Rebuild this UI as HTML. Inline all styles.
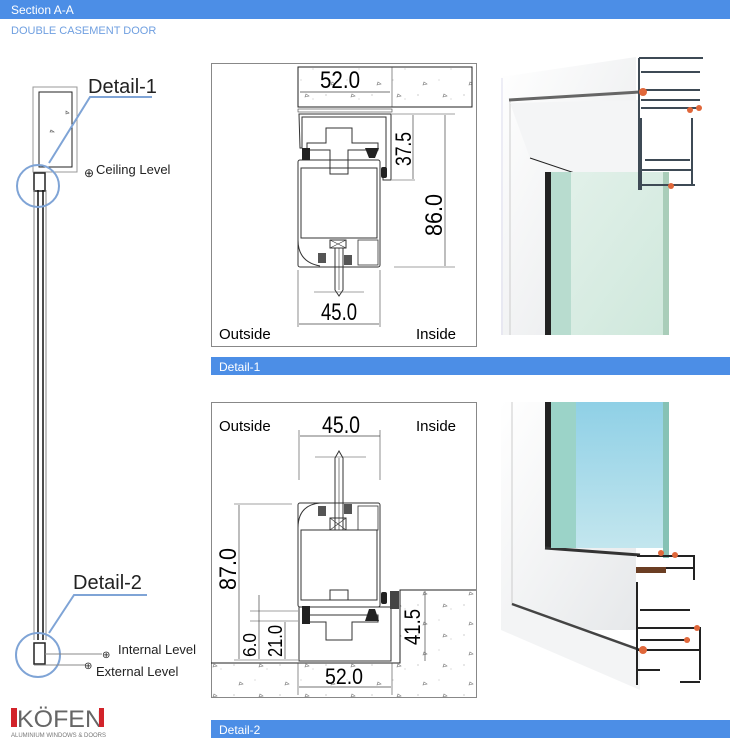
<!DOCTYPE html>
<html><head><meta charset="utf-8"><style>
html,body{margin:0;padding:0;background:#fff;width:730px;height:745px;overflow:hidden}
svg{display:block}
text{font-family:"Liberation Sans",sans-serif}
</style></head><body>
<svg width="730" height="745" viewBox="0 0 730 745" xmlns="http://www.w3.org/2000/svg">
<defs>
<linearGradient id="g1" x1="0" y1="0" x2="1" y2="1"><stop offset="0" stop-color="#e3f1ea"/><stop offset="1" stop-color="#cfe8dc"/></linearGradient>
<linearGradient id="g2" x1="0" y1="0" x2="0" y2="1"><stop offset="0" stop-color="#8fd0e6"/><stop offset="1" stop-color="#c3e6ee"/></linearGradient>
<linearGradient id="sh" x1="0" y1="0" x2="1" y2="1"><stop offset="0" stop-color="#ffffff"/><stop offset="1" stop-color="#e6e8ea"/></linearGradient>
<pattern id="conc" width="46" height="30" patternUnits="userSpaceOnUse"><circle cx="4" cy="5" r="0.6" fill="#aaa"/><circle cx="25" cy="20" r="0.5" fill="#aaa"/><circle cx="37" cy="9" r="0.5" fill="#aaa"/><path d="M30 4 l3 2 l-4 1z" fill="none" stroke="#777" stroke-width="0.6"/><path d="M10 22 l3 2 l-4 1z" fill="none" stroke="#777" stroke-width="0.6"/></pattern>
</defs>
<!-- header -->
<rect x="0" y="0" width="730" height="19" fill="#4c8ee6"/>
<text x="11" y="14" font-size="12" fill="#fff">Section A-A</text>
<text x="11" y="34" font-size="11" fill="#6f9fe0">DOUBLE CASEMENT DOOR</text>

<!-- left section -->
<rect x="33" y="87" width="44" height="85" fill="none" stroke="#999" stroke-width="1"/>
<rect x="39" y="92" width="33" height="75" fill="none" stroke="#222" stroke-width="1"/>
<path d="M66 111 l3 2 l-3 1z M51 130 l3 2 l-4 0z" fill="none" stroke="#555" stroke-width="0.6"/>
<rect x="34" y="173" width="11" height="18" fill="none" stroke="#222" stroke-width="1.5"/>
<line x1="34" y1="190" x2="34" y2="640" stroke="#888" stroke-width="1"/>
<line x1="38" y1="190" x2="38" y2="640" stroke="#111" stroke-width="1.5"/>
<line x1="43" y1="190" x2="43" y2="640" stroke="#111" stroke-width="1.5"/>
<line x1="46" y1="190" x2="46" y2="640" stroke="#888" stroke-width="1"/>
<rect x="34" y="643" width="11" height="21" fill="none" stroke="#222" stroke-width="1.5"/>
<circle cx="38" cy="186" r="21" fill="none" stroke="#7fa4d6" stroke-width="2"/>
<polyline points="49,163 90,97 152,97" fill="none" stroke="#7fa4d6" stroke-width="2"/>
<text x="88" y="93" font-size="20" fill="#222">Detail-1</text>
<text x="84" y="177" font-size="12" fill="#222">⊕</text>
<text x="96" y="174" font-size="13" fill="#222">Ceiling Level</text>
<circle cx="38" cy="655" r="22" fill="none" stroke="#7fa4d6" stroke-width="2"/>
<polyline points="49,633 74,595 147,595" fill="none" stroke="#7fa4d6" stroke-width="2"/>
<text x="73" y="589" font-size="20" fill="#222">Detail-2</text>
<line x1="45" y1="654" x2="102" y2="654" stroke="#888"/>
<line x1="34" y1="665" x2="86" y2="665" stroke="#888"/>
<text x="102" y="658" font-size="10" fill="#222">⊕</text>
<text x="118" y="654" font-size="13" fill="#222">Internal Level</text>
<text x="84" y="669" font-size="10" fill="#222">⊕</text>
<text x="96" y="676" font-size="13" fill="#222">External Level</text>
<!-- logo -->
<rect x="11" y="708" width="6" height="19" fill="#d2232a"/>
<text x="17" y="727" font-size="24" fill="#666" textLength="86" lengthAdjust="spacingAndGlyphs">KÖFEN</text>
<rect x="99" y="708" width="5" height="19" fill="#d2232a"/>
<text x="11" y="737" font-size="6" fill="#777" textLength="95" lengthAdjust="spacingAndGlyphs" font-family="Liberation Serif">ALUMINIUM WINDOWS &amp; DOORS</text>

<!-- detail 1 box -->
<rect x="211.5" y="63.5" width="265" height="283" fill="#fff" stroke="#888"/>
<rect x="298" y="67" width="174" height="40" fill="url(#conc)" stroke="#222"/>
<line x1="392" y1="67" x2="392" y2="107" stroke="#444" stroke-width="0.6"/>
<line x1="300" y1="92" x2="390" y2="92" stroke="#444" stroke-width="0.7"/>
<text x="320" y="88" font-size="24" textLength="40" lengthAdjust="spacingAndGlyphs">52.0</text>
<rect x="298" y="109" width="94" height="3" fill="none" stroke="#444" stroke-width="0.6"/>
<path d="M299 114 H391 V180 H383 V176 L386 176 V117 H302 V148 H300 Z" fill="none" stroke="#333" stroke-width="1"/>
<path d="M307 143 H326 V128 H352 V143 H378 V150 H348 V160 H330 V150 H307 Z" fill="none" stroke="#333" stroke-width="1"/>
<rect x="298" y="160" width="82" height="107" rx="2" fill="none" stroke="#333" stroke-width="1"/>
<rect x="301" y="168" width="76" height="70" fill="none" stroke="#333" stroke-width="1"/>
<path d="M330 160 V174 H348 V160" fill="none" stroke="#333"/>
<path d="M298 240 Q298 262 320 266" fill="none" stroke="#333"/>
<rect x="302" y="148" width="8" height="12" fill="#222"/>
<path d="M365 148 h14 l-4 10 h-6z" fill="#222"/>
<rect x="381" y="167" width="6" height="11" rx="2" fill="#222"/>
<rect x="330" y="240" width="16" height="8" fill="none" stroke="#333"/>
<path d="M330 240 l16 8 M346 240 l-16 8" stroke="#333" stroke-width="0.6"/>
<rect x="358" y="240" width="20" height="25" fill="none" stroke="#333" stroke-width="0.8"/>
<rect x="318" y="253" width="8" height="10" fill="#555"/>
<rect x="344" y="255" width="8" height="10" fill="#555"/>
<path d="M335 248 V290 L339 296 L343 290 V248" fill="none" stroke="#333"/>
<line x1="339" y1="248" x2="339" y2="290" stroke="#333" stroke-width="0.6"/>
<line x1="314" y1="292" x2="364" y2="292" stroke="#444" stroke-width="0.6"/>
<line x1="298" y1="270" x2="298" y2="327" stroke="#444" stroke-width="0.6"/>
<line x1="380" y1="270" x2="380" y2="327" stroke="#444" stroke-width="0.6"/>
<line x1="299" y1="324" x2="379" y2="324" stroke="#444" stroke-width="0.7"/>
<text x="321" y="320" font-size="24" textLength="36" lengthAdjust="spacingAndGlyphs">45.0</text>
<line x1="392" y1="114" x2="455" y2="114" stroke="#444" stroke-width="0.6"/>
<line x1="392" y1="180" x2="415" y2="180" stroke="#444" stroke-width="0.6"/>
<line x1="394" y1="267" x2="455" y2="267" stroke="#444" stroke-width="0.6"/>
<line x1="413" y1="115" x2="413" y2="179" stroke="#444" stroke-width="0.7"/>
<line x1="445" y1="115" x2="445" y2="266" stroke="#444" stroke-width="0.7"/>
<text transform="translate(411,166) rotate(-90)" font-size="22" textLength="34" lengthAdjust="spacingAndGlyphs">37.5</text>
<text transform="translate(442,236) rotate(-90)" font-size="24" textLength="42" lengthAdjust="spacingAndGlyphs">86.0</text>
<text x="219" y="339" font-size="15">Outside</text>
<text x="416" y="339" font-size="15">Inside</text>

<rect x="211" y="357" width="519" height="18" fill="#4c8ee6"/>
<text x="219" y="371" font-size="12" fill="#fff">Detail-1</text>

<!-- detail 2 box -->
<rect x="211.5" y="402.5" width="265" height="295" fill="#fff" stroke="#888"/>
<text x="219" y="431" font-size="15">Outside</text>
<text x="416" y="431" font-size="15">Inside</text>
<text x="322" y="433" font-size="24" textLength="38" lengthAdjust="spacingAndGlyphs">45.0</text>
<line x1="300" y1="436" x2="380" y2="436" stroke="#444" stroke-width="0.7"/>
<line x1="299" y1="430" x2="299" y2="480" stroke="#444" stroke-width="0.6"/>
<line x1="380" y1="430" x2="380" y2="480" stroke="#444" stroke-width="0.6"/>
<line x1="315" y1="457" x2="366" y2="457" stroke="#444" stroke-width="0.6"/>
<path d="M335 530 V458 L339 451 L343 458 V530" fill="none" stroke="#333"/>
<line x1="339" y1="458" x2="339" y2="530" stroke="#333" stroke-width="0.6"/>
<rect x="298" y="503" width="82" height="104" rx="2" fill="none" stroke="#333"/>
<path d="M298 528 Q298 505 320 503" fill="none" stroke="#333"/>
<rect x="301" y="530" width="76" height="70" fill="none" stroke="#333"/>
<rect x="318" y="506" width="8" height="10" fill="#555"/>
<rect x="344" y="504" width="8" height="10" fill="#555"/>
<rect x="330" y="518" width="16" height="12" fill="none" stroke="#333"/>
<path d="M330 518 l16 12 M346 518 l-16 12" stroke="#333" stroke-width="0.6"/>
<rect x="358" y="506" width="20" height="24" fill="none" stroke="#333" stroke-width="0.8"/>
<path d="M330 600 V590 H348 V600" fill="none" stroke="#333"/>
<path d="M299 607 H391 V661 H299 Z" fill="none" stroke="#333"/>
<path d="M307 622 H326 V640 H352 V622 H378 V615 H307 Z" fill="none" stroke="#333"/>
<rect x="302" y="606" width="8" height="18" fill="#222"/>
<path d="M365 621 h14 l-4 -12 h-6z" fill="#222"/>
<rect x="381" y="592" width="6" height="12" rx="2" fill="#222"/>
<rect x="390" y="591" width="9" height="18" fill="#444"/>
<rect x="211" y="663" width="265" height="34" fill="url(#conc)"/>
<rect x="400" y="590" width="76" height="73" fill="url(#conc)"/>
<polyline points="211,663 400,663 400,590 476,590" fill="none" stroke="#222"/>
<line x1="298" y1="663" x2="298" y2="695" stroke="#444" stroke-width="0.6"/>
<line x1="392" y1="663" x2="392" y2="695" stroke="#444" stroke-width="0.6"/>
<line x1="299" y1="687" x2="391" y2="687" stroke="#444" stroke-width="0.7"/>
<text x="325" y="684" font-size="22" textLength="38" lengthAdjust="spacingAndGlyphs">52.0</text>
<line x1="234" y1="504" x2="292" y2="504" stroke="#444" stroke-width="0.6"/>
<line x1="239" y1="505" x2="239" y2="659" stroke="#444" stroke-width="0.7"/>
<line x1="234" y1="660" x2="298" y2="660" stroke="#444" stroke-width="0.6"/>
<line x1="250" y1="611" x2="298" y2="611" stroke="#444" stroke-width="0.6"/>
<line x1="250" y1="621" x2="298" y2="621" stroke="#444" stroke-width="0.6"/>
<line x1="259" y1="595" x2="259" y2="659" stroke="#444" stroke-width="0.7"/>
<line x1="285" y1="622" x2="285" y2="659" stroke="#444" stroke-width="0.7"/>
<line x1="425" y1="591" x2="425" y2="661" stroke="#444" stroke-width="0.7"/>
<text transform="translate(236,590) rotate(-90)" font-size="24" textLength="42" lengthAdjust="spacingAndGlyphs">87.0</text>
<text transform="translate(256,657) rotate(-90)" font-size="18" textLength="24" lengthAdjust="spacingAndGlyphs">6.0</text>
<text transform="translate(282,657) rotate(-90)" font-size="20" textLength="32" lengthAdjust="spacingAndGlyphs">21.0</text>
<text transform="translate(420,645) rotate(-90)" font-size="22" textLength="36" lengthAdjust="spacingAndGlyphs">41.5</text>

<rect x="211" y="720" width="519" height="18" fill="#4c8ee6"/>
<text x="219" y="734" font-size="12" fill="#fff">Detail-2</text>

<!-- photo 1 -->
<path d="M501 77 L636 57 V335 H501 Z" fill="url(#sh)"/>
<line x1="502" y1="78" x2="502" y2="335" stroke="#dde" />
<line x1="510" y1="100" x2="510" y2="335" stroke="#ccc"/>
<path d="M509 100 L640 92" stroke="#666" stroke-width="3"/>
<path d="M510 103 L640 100 L640 195 L530 158Z" fill="#f4f5f6"/>
<path d="M530 158 L640 195" stroke="#222" stroke-width="1"/>
<rect x="545" y="172" width="6" height="163" fill="#222"/>
<rect x="551" y="172" width="117" height="163" fill="url(#g1)"/>
<rect x="551" y="172" width="20" height="163" fill="#b8dccf"/>
<rect x="663" y="172" width="6" height="163" fill="#a9cdb9"/>
<path d="M639 58 H703 M639 58 V190 M641 72 H700 M641 90 H700 M641 100 H700 M641 108 H700 M641 118 V190 M641 170 H692 M692 118 V185 M641 185 H695 M645 160 H690" fill="none" stroke="#3e4a55" stroke-width="2"/>
<circle cx="643" cy="92" r="4" fill="#e0673a"/>
<circle cx="690" cy="110" r="3" fill="#e0673a"/>
<circle cx="699" cy="108" r="3" fill="#e0673a"/>
<circle cx="671" cy="186" r="3" fill="#e0673a"/>
<!-- photo 2 -->
<rect x="501" y="402" width="135" height="228" fill="url(#sh)"/>
<path d="M501 630 L640 690 V650 L512 604 Z" fill="#f3f4f5"/>
<line x1="512" y1="402" x2="512" y2="605" stroke="#ccc"/>
<path d="M512 604 L640 650" stroke="#444" stroke-width="2.5"/>
<rect x="545" y="402" width="6" height="146" fill="#222"/>
<path d="M545 548 L640 555" stroke="#333" stroke-width="3"/>
<rect x="551" y="402" width="117" height="146" fill="url(#g2)"/>
<rect x="551" y="402" width="25" height="146" fill="#9bd3c8"/>
<rect x="663" y="402" width="6" height="156" fill="#86c2b5"/>
<path d="M637 556 H694 V580 M637 568 H694 M637 582 V685 M637 628 H700 V680 M637 650 H700 M637 670 H660 M680 682 H700 M640 610 H690 M640 640 H690" fill="none" stroke="#222" stroke-width="2"/>
<rect x="636" y="567" width="30" height="6" fill="#6b3e23"/>
<circle cx="661" cy="553" r="3" fill="#e0673a"/>
<circle cx="675" cy="555" r="3" fill="#e0673a"/>
<circle cx="643" cy="650" r="4" fill="#e0673a"/>
<circle cx="687" cy="640" r="3" fill="#e0673a"/>
<circle cx="697" cy="628" r="3" fill="#e0673a"/>
</svg>
</body></html>
